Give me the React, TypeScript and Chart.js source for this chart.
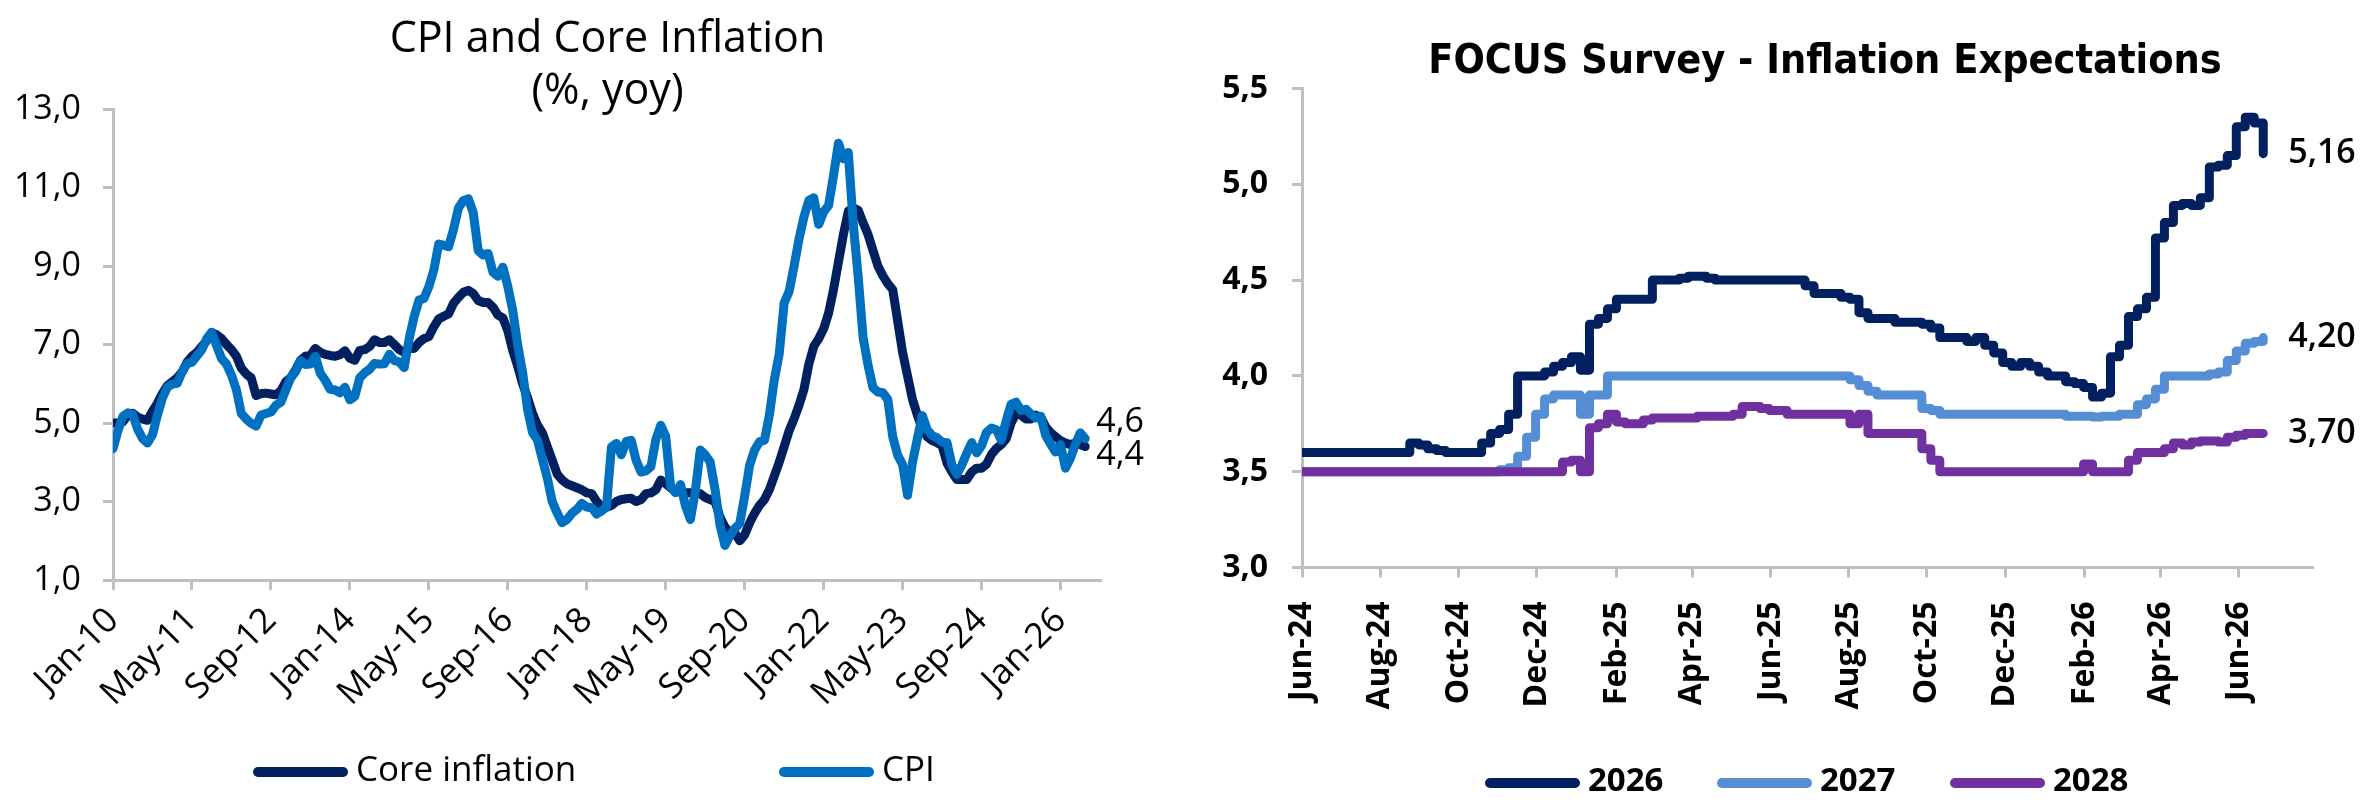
import { useEffect, useRef } from 'react'
import { Chart, LineController, LineElement, LinearScale, PointElement } from 'chart.js'

Chart.register(LineController, LineElement, PointElement, LinearScale)

const C_CORE = '#002060'
const C_CPI = '#0070C0'
const C_2026 = '#002060'
const C_2027 = '#558ED5'
const C_2028 = '#7030A0'
const AXIS = '#BFBFBF'
const FONT = '"Open Sans", "Noto Sans", sans-serif'
const NARROW = '"Liberation Sans Narrow", "DejaVu Sans Condensed", "Open Sans", sans-serif'

// left chart: monthly, Jan-10 .. Jun-26
const cpiTicks = ['Jan-10', 'May-11', 'Sep-12', 'Jan-14', 'May-15', 'Sep-16', 'Jan-18', 'May-19', 'Sep-20', 'Jan-22', 'May-23', 'Sep-24', 'Jan-26']
const cpiValues = [
  4.35, 4.8, 5.17, 5.26, 5.22, 4.84, 4.6, 4.49, 4.7, 5.2, 5.63, 5.91,
  5.99, 6.01, 6.3, 6.51, 6.55, 6.71, 6.87, 7.15, 7.31, 6.97, 6.64, 6.5,
  6.22, 5.85, 5.24, 5.1, 4.99, 4.92, 5.2, 5.24, 5.28, 5.45, 5.53, 5.84,
  6.15, 6.31, 6.59, 6.49, 6.5, 6.7, 6.27, 6.09, 5.86, 5.84, 5.77, 5.91,
  5.59, 5.68, 6.15, 6.28, 6.37, 6.52, 6.5, 6.51, 6.75, 6.59, 6.56, 6.41,
  7.14, 7.7, 8.13, 8.17, 8.47, 8.89, 9.56, 9.53, 9.49, 9.93, 10.48, 10.67,
  10.71, 10.36, 9.39, 9.28, 9.32, 8.84, 8.74, 8.97, 8.48, 7.87, 6.99, 6.29,
  5.35, 4.76, 4.57, 4.08, 3.6, 3.0, 2.71, 2.46, 2.54, 2.7, 2.8, 2.95,
  2.86, 2.84, 2.68, 2.76, 2.86, 4.39, 4.48, 4.19, 4.53, 4.56, 4.05, 3.75,
  3.78, 3.89, 4.58, 4.94, 4.66, 3.37, 3.22, 3.43, 2.89, 2.54, 3.27, 4.31,
  4.19, 4.01, 3.3, 2.4, 1.88, 2.13, 2.31, 2.44, 3.14, 3.92, 4.31, 4.52,
  4.56, 5.2, 6.1, 6.76, 8.06, 8.35, 8.99, 9.68, 10.25, 10.67, 10.74, 10.06,
  10.38, 10.54, 11.3, 12.13, 11.73, 11.89, 10.07, 8.73, 7.17, 6.47, 5.9, 5.79,
  5.77, 5.6, 4.65, 4.18, 3.94, 3.16, 3.99, 4.61, 5.19, 4.82, 4.68, 4.62,
  4.51, 4.5, 3.93, 3.69, 3.93, 4.23, 4.5, 4.24, 4.42, 4.76, 4.87, 4.83,
  4.56, 5.06, 5.48, 5.53, 5.32, 5.35, 5.23, 5.13, 5.17, 4.68, 4.46, 4.26,
  4.45, 3.85, 4.1, 4.45, 4.75, 4.6,
]
const coreValues = [
  5.0, 5.0, 5.03, 5.2, 5.25, 5.15, 5.1, 5.07, 5.3, 5.5, 5.75, 5.95,
  6.05, 6.15, 6.3, 6.55, 6.7, 6.8, 6.95, 7.1, 7.3, 7.25, 7.15, 7.0,
  6.87, 6.7, 6.4, 6.25, 6.15, 5.7, 5.75, 5.76, 5.74, 5.72, 5.82, 6.05,
  6.15, 6.35, 6.6, 6.7, 6.72, 6.9, 6.8, 6.75, 6.72, 6.7, 6.74, 6.84,
  6.65, 6.6, 6.85, 6.87, 6.95, 7.12, 7.05, 7.05, 7.12, 7.0, 6.87, 6.8,
  6.9, 6.9, 7.05, 7.15, 7.2, 7.45, 7.65, 7.72, 7.78, 8.05, 8.2, 8.33,
  8.38, 8.3, 8.12, 8.07, 8.07, 7.95, 7.75, 7.68, 7.35, 6.85, 6.45, 6.0,
  5.65, 5.25, 4.95, 4.75, 4.4, 4.05, 3.7, 3.55, 3.45, 3.4, 3.35, 3.3,
  3.22, 3.2, 3.0, 2.88, 2.85, 2.9, 3.0, 3.05, 3.07, 3.08, 3.0, 3.05,
  3.2, 3.22, 3.3, 3.55, 3.45, 3.35, 3.28, 3.25, 3.22, 3.22, 3.22, 3.2,
  3.1, 3.05, 3.0, 2.6, 2.35, 2.22, 2.2, 2.0, 2.15, 2.45, 2.7, 2.9,
  3.05, 3.3, 3.65, 4.0, 4.4, 4.8, 5.1, 5.45, 5.85, 6.5, 6.95, 7.15,
  7.4, 7.8, 8.4, 9.1, 9.8, 10.4, 10.48, 10.42, 10.1, 9.8, 9.4, 9.0,
  8.75, 8.55, 8.4, 7.6, 6.8, 6.2, 5.6, 5.2, 4.85, 4.65, 4.55, 4.5,
  4.42, 3.98, 3.75, 3.56, 3.56, 3.56, 3.75, 3.85, 3.85, 3.95, 4.2, 4.35,
  4.45, 4.6, 5.0, 5.25, 5.2, 5.1, 5.1, 5.2, 5.15, 4.9, 4.75, 4.65,
  4.55, 4.49, 4.45, 4.49, 4.45, 4.4,
]

// right chart: weekly Focus readings from 1 Jun 2024
const focusTicks = ['Jun-24', 'Aug-24', 'Oct-24', 'Dec-24', 'Feb-25', 'Apr-25', 'Jun-25', 'Aug-25', 'Oct-25', 'Dec-25', 'Feb-26', 'Apr-26', 'Jun-26']
const exp2026 = [
  3.6, 3.6, 3.6, 3.6, 3.6, 3.6, 3.6, 3.6, 3.6, 3.6,
  3.6, 3.6, 3.65, 3.64, 3.62, 3.61, 3.6, 3.6, 3.6, 3.6,
  3.65, 3.7, 3.72, 3.8, 4.0, 4.0, 4.0, 4.02, 4.05, 4.07,
  4.1, 4.03, 4.27, 4.3, 4.35, 4.4, 4.4, 4.4, 4.4, 4.5,
  4.5, 4.5, 4.51, 4.52, 4.52, 4.51, 4.5, 4.5, 4.5, 4.5,
  4.5, 4.5, 4.5, 4.5, 4.5, 4.5, 4.47, 4.43, 4.43, 4.43,
  4.41, 4.4, 4.33, 4.3, 4.3, 4.3, 4.28, 4.28, 4.28, 4.27,
  4.25, 4.2, 4.2, 4.2, 4.18, 4.2, 4.16, 4.12, 4.07, 4.05,
  4.07, 4.05, 4.02, 4.0, 4.0, 3.97, 3.96, 3.94, 3.89, 3.91,
  4.1, 4.16, 4.31, 4.35, 4.41, 4.72, 4.8, 4.89, 4.9, 4.89,
  4.93, 5.09, 5.1, 5.15, 5.3, 5.35, 5.32, 5.16,
]
const exp2027 = [
  3.5, 3.5, 3.5, 3.5, 3.5, 3.5, 3.5, 3.5, 3.5, 3.5,
  3.5, 3.5, 3.5, 3.5, 3.5, 3.5, 3.5, 3.5, 3.5, 3.5,
  3.5, 3.5, 3.51, 3.52, 3.58, 3.68, 3.8, 3.88, 3.9, 3.9,
  3.9, 3.8, 3.9, 3.9, 4.0, 4.0, 4.0, 4.0, 4.0, 4.0,
  4.0, 4.0, 4.0, 4.0, 4.0, 4.0, 4.0, 4.0, 4.0, 4.0,
  4.0, 4.0, 4.0, 4.0, 4.0, 4.0, 4.0, 4.0, 4.0, 4.0,
  4.0, 3.98, 3.95, 3.92, 3.9, 3.9, 3.9, 3.9, 3.9, 3.83,
  3.82, 3.8, 3.8, 3.8, 3.8, 3.8, 3.8, 3.8, 3.8, 3.8,
  3.8, 3.8, 3.8, 3.8, 3.8, 3.79, 3.79, 3.79, 3.785, 3.79,
  3.79, 3.8, 3.8, 3.85, 3.88, 3.93, 4.0, 4.0, 4.0, 4.0,
  4.0, 4.01, 4.02, 4.08, 4.13, 4.17, 4.18, 4.2,
]
const exp2028 = [
  3.5, 3.5, 3.5, 3.5, 3.5, 3.5, 3.5, 3.5, 3.5, 3.5,
  3.5, 3.5, 3.5, 3.5, 3.5, 3.5, 3.5, 3.5, 3.5, 3.5,
  3.5, 3.5, 3.5, 3.5, 3.5, 3.5, 3.5, 3.5, 3.5, 3.55,
  3.56, 3.5, 3.73, 3.75, 3.8, 3.76, 3.75, 3.75, 3.77, 3.78,
  3.78, 3.78, 3.78, 3.78, 3.79, 3.79, 3.79, 3.79, 3.8, 3.84,
  3.84, 3.83, 3.82, 3.82, 3.8, 3.8, 3.8, 3.8, 3.8, 3.8,
  3.8, 3.75, 3.8, 3.7, 3.7, 3.7, 3.7, 3.7, 3.7, 3.62,
  3.56, 3.5, 3.5, 3.5, 3.5, 3.5, 3.5, 3.5, 3.5, 3.5,
  3.5, 3.5, 3.5, 3.5, 3.5, 3.5, 3.5, 3.54, 3.5, 3.5,
  3.5, 3.5, 3.56, 3.6, 3.6, 3.6, 3.62, 3.65, 3.64, 3.655,
  3.66, 3.66, 3.655, 3.68, 3.69, 3.7, 3.7, 3.7,
]

const MON = ['Jan', 'Feb', 'Mar', 'Apr', 'May', 'Jun', 'Jul', 'Aug', 'Sep', 'Oct', 'Nov', 'Dec']
const FOCUS_START = Date.UTC(2024, 5, 1)

function dayOf(label: string) {
  const [m, y] = label.split('-')
  return (Date.UTC(2000 + Number(y), MON.indexOf(m), 1) - FOCUS_START) / 864e5
}

function monthOf(label: string) {
  const [m, y] = label.split('-')
  return (Number(y) - 10) * 12 + MON.indexOf(m)
}

const comma = (v: number, digits: number) => v.toFixed(digits).replace('.', ',')

const endLabels = {
  id: 'endLabels',
  afterDatasetsDraw(chart: any, _args: any, opts: any) {
    const { ctx } = chart
    const xs = chart.scales.x
    const ys = chart.scales.y
    ctx.save()
    ctx.font = opts.font
    ctx.fillStyle = '#000'
    ctx.textBaseline = 'middle'
    ctx.textAlign = 'left'
    chart.data.datasets.forEach((ds: any, i: number) => {
      const last = ds.data[ds.data.length - 1]
      const px = xs.getPixelForValue(last.x) + opts.dx
      const py = ys.getPixelForValue(last.y) + (opts.dy[i] || 0)
      ctx.fillText(comma(last.y, opts.digits), px, py)
    })
    ctx.restore()
  },
}

function axisGrid() {
  return {
    drawOnChartArea: false,
    drawTicks: true,
    tickLength: 10,
    color: AXIS,
    lineWidth: 3,
  }
}

function CpiChart() {
  const canvasRef = useRef<HTMLCanvasElement | null>(null)

  useEffect(() => {
    if (!canvasRef.current) return undefined
    const line = (vals: number[]) => vals.map((y, x) => ({ x, y }))
    const chart = new Chart(canvasRef.current, {
      type: 'line',
      data: {
        datasets: [
          { label: 'CPI', data: line(cpiValues), borderColor: C_CPI, order: 0 },
          { label: 'Core inflation', data: line(coreValues), borderColor: C_CORE, order: 1 },
        ],
      },
      plugins: [endLabels],
      options: {
        animation: false,
        responsive: true,
        maintainAspectRatio: false,
        events: [],
        layout: { padding: { left: 0, right: 60, top: 109, bottom: 0 } },
        elements: {
          point: { radius: 0 },
          line: { borderWidth: 9, borderCapStyle: 'round', borderJoinStyle: 'round', tension: 0 },
        },
        plugins: {
          endLabels: { font: `34px ${FONT}`, dx: 11, dy: [-16, 9], digits: 1 },
        } as any,
        scales: {
          x: {
            type: 'linear',
            min: 0,
            max: 200,
            afterBuildTicks: (s: any) => {
              s.ticks = cpiTicks.map((t) => ({ value: monthOf(t) }))
            },
            afterFit: (s: any) => {
              s.height = 225
              s.paddingLeft = 0
              s.paddingRight = 0
            },
            ticks: {
              autoSkip: false,
              minRotation: 45,
              maxRotation: 45,
              padding: 10,
              color: '#000',
              font: { family: FONT, size: 35 },
              callback: (v: any) => cpiTicks.find((t) => monthOf(t) === Number(v)) || '',
            },
            grid: axisGrid(),
            border: { color: AXIS, width: 3 },
          },
          y: {
            type: 'linear',
            min: 1,
            max: 13,
            afterFit: (s: any) => {
              s.width = 113
            },
            ticks: {
              stepSize: 2,
              padding: 22,
              color: '#000',
              font: { family: FONT, size: 34 },
              callback: (v: any) => comma(Number(v), 1),
            },
            grid: axisGrid(),
            border: { color: AXIS, width: 3 },
          },
        },
      } as any,
    })
    return () => chart.destroy()
  }, [])

  return <canvas ref={canvasRef} />
}

function FocusChart() {
  const canvasRef = useRef<HTMLCanvasElement | null>(null)

  useEffect(() => {
    if (!canvasRef.current) return undefined
    const weekly = (vals: number[]) => vals.map((y, k) => ({ x: k * 7, y }))
    const chart = new Chart(canvasRef.current, {
      type: 'line',
      data: {
        datasets: [
          { label: '2026', data: weekly(exp2026), borderColor: C_2026, order: 2 },
          { label: '2027', data: weekly(exp2027), borderColor: C_2027, order: 1 },
          { label: '2028', data: weekly(exp2028), borderColor: C_2028, order: 0 },
        ],
      },
      plugins: [endLabels],
      options: {
        animation: false,
        responsive: true,
        maintainAspectRatio: false,
        events: [],
        layout: { padding: { left: 0, right: 63, top: 88.5, bottom: 0 } },
        elements: {
          point: { radius: 0 },
          line: { borderWidth: 9, borderCapStyle: 'round', borderJoinStyle: 'round', stepped: 'before' },
        },
        plugins: {
          endLabels: { font: `600 34px ${FONT}`, dx: 25, dy: [0, 0, 0], digits: 2 },
        } as any,
        scales: {
          x: {
            type: 'linear',
            min: 0,
            max: 787,
            afterBuildTicks: (s: any) => {
              s.ticks = focusTicks.map((t) => ({ value: dayOf(t) }))
            },
            afterFit: (s: any) => {
              s.height = 237.5
              s.paddingLeft = 0
              s.paddingRight = 0
            },
            ticks: {
              autoSkip: false,
              minRotation: 90,
              maxRotation: 90,
              padding: 24,
              color: '#000',
              font: { family: FONT, size: 32, weight: 'bold' },
              callback: (v: any) => focusTicks.find((t) => dayOf(t) === Number(v)) || '',
            },
            grid: axisGrid(),
            border: { color: AXIS, width: 3 },
          },
          y: {
            type: 'linear',
            min: 3,
            max: 5.5,
            afterFit: (s: any) => {
              s.width = 122
            },
            ticks: {
              stepSize: 0.5,
              padding: 24,
              color: '#000',
              font: { family: FONT, size: 32, weight: 'bold' },
              callback: (v: any) => comma(Number(v), 1),
            },
            grid: axisGrid(),
            border: { color: AXIS, width: 3 },
          },
        },
      } as any,
    })
    return () => chart.destroy()
  }, [])

  return <canvas ref={canvasRef} />
}

function LegendItem({ left, top, color, text, font, textTop }: { left: number; top: number; color: string; text: string; font: string; textTop: number }) {
  return (
    <>
      <div style={{ position: 'absolute', left, top: top - 5, width: 95, height: 10, borderRadius: 5, background: color }} />
      <div style={{ position: 'absolute', left: left + 103, top: textTop, font, lineHeight: 1, whiteSpace: 'nowrap', color: '#000' }}>{text}</div>
    </>
  )
}

export default function App() {
  useEffect(() => {
    document.body.style.margin = '0'
  }, [])

  return (
    <div style={{ position: 'fixed', left: 0, top: 0, width: 2375, height: 805, background: '#fff', overflow: 'hidden' }}>
      <div style={{ position: 'absolute', left: 0, top: 0, width: 1160, height: 805 }}>
        <CpiChart />
      </div>
      <div style={{ position: 'absolute', left: 1180, top: 0, width: 1195, height: 805 }}>
        <FocusChart />
      </div>

      <div style={{ position: 'absolute', left: 0, top: 10, width: 1215, textAlign: 'center', font: `43px/52px ${FONT}`, color: '#000' }}>
        CPI and Core Inflation
        <br />
        (%, yoy)
      </div>
      <div style={{ position: 'absolute', left: 1180, top: 39, width: 1290, textAlign: 'center', font: `bold 41px/41px ${NARROW}`, color: '#000', whiteSpace: 'nowrap' }}>
        FOCUS Survey - Inflation Expectations
      </div>

      <LegendItem left={253} top={772} color={C_CORE} text="Core inflation" font={`35px ${FONT}`} textTop={750} />
      <LegendItem left={779} top={772} color={C_CPI} text="CPI" font={`35px ${FONT}`} textTop={750} />

      <LegendItem left={1485} top={783} color={C_2026} text="2026" font={`bold 33px ${FONT}`} textTop={762} />
      <LegendItem left={1717} top={783} color={C_2027} text="2027" font={`bold 33px ${FONT}`} textTop={762} />
      <LegendItem left={1950} top={783} color={C_2028} text="2028" font={`bold 33px ${FONT}`} textTop={762} />
    </div>
  )
}
